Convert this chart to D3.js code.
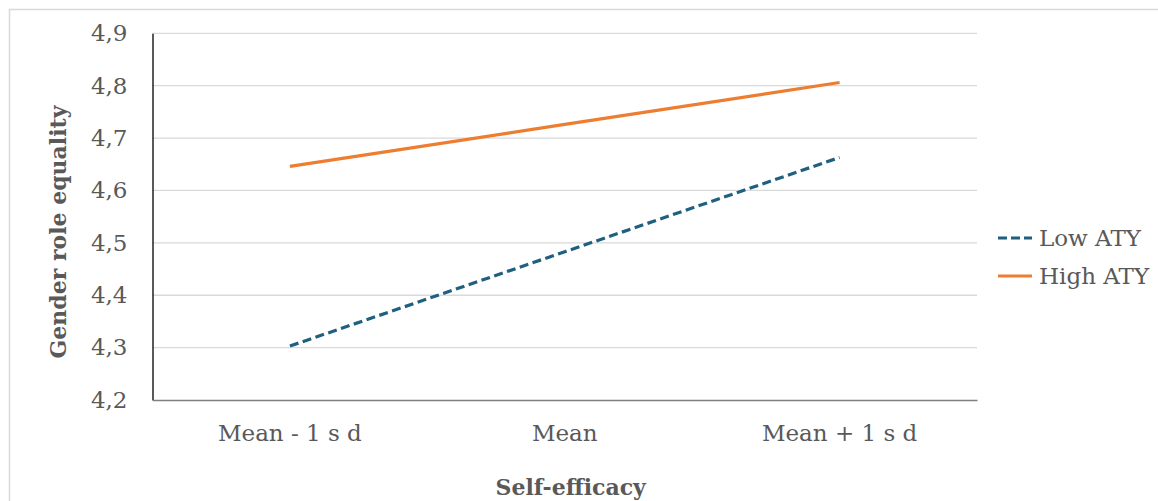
<!DOCTYPE html>
<html>
<head>
<meta charset="utf-8">
<script src="https://cdn.jsdelivr.net/npm/d3@7"></script>
<style>
  html, body { margin: 0; padding: 0; background: #fff; }
  svg { display: block; }
</style>
</head>
<body>
<script>
const categories = ["Mean - 1 s d", "Mean", "Mean + 1 s d"];
const seriesNames = ["Low ATY", "High ATY"];
const lowATY = [4.303, 4.483, 4.663];
const highATY = [4.646, 4.726, 4.806];
const yTicks = [4.2, 4.3, 4.4, 4.5, 4.6, 4.7, 4.8, 4.9];
const yTickLabels = ["4,2", "4,3", "4,4", "4,5", "4,6", "4,7", "4,8", "4,9"];
const xTitle = "Self-efficacy";
const yTitle = "Gender role equality";

const W = 1158, H = 501;
const font = "'DejaVu Serif', serif";
const textColor = "#595959";

const svg = d3.select("body").append("svg").attr("width", W).attr("height", H);
svg.append("rect").attr("width", W).attr("height", H).attr("fill", "#fff");
svg.append("rect").attr("x", 9.5).attr("y", 9.5).attr("width", W).attr("height", H)
  .attr("fill", "none").attr("stroke", "#d9d9d9").attr("stroke-width", 1.5);

const plot = { left: 152.5, right: 977, top: 33.3, bottom: 400 };

const x = d3.scaleBand().domain(categories).range([plot.left, plot.right]);
const y = d3.scaleLinear().domain([4.2, 4.9]).range([plot.bottom, plot.top]);

// gridlines
svg.append("g").selectAll("line").data(yTicks.slice(1)).join("line")
  .attr("x1", plot.left).attr("x2", plot.right)
  .attr("y1", d => y(d)).attr("y2", d => y(d))
  .attr("stroke", "#d9d9d9").attr("stroke-width", 1.3);

// y axis
const yAxis = d3.axisLeft(y).tickValues(yTicks).tickSize(0).tickPadding(25)
  .tickFormat((d, i) => yTickLabels[i]);
const gy = svg.append("g").attr("transform", `translate(${plot.left},0)`).call(yAxis);
gy.select(".domain").attr("stroke", "#000").attr("stroke-width", 1.3);
gy.selectAll("text").attr("font-family", font).attr("font-size", 23).attr("fill", textColor);

// x axis
const xAxis = d3.axisBottom(x).tickSize(0).tickPadding(25);
const gx = svg.append("g").attr("transform", `translate(0,${plot.bottom})`).call(xAxis);
gx.select(".domain").attr("stroke", "#808080").attr("stroke-width", 1.5);
gx.selectAll("text").attr("font-family", font).attr("font-size", 23).attr("fill", textColor);

// lines
const line = d3.line().x((d, i) => x(categories[i]) + x.bandwidth() / 2).y(d => y(d));
svg.append("path").datum(lowATY).attr("d", line)
  .attr("fill", "none").attr("stroke", "#1f5f80").attr("stroke-width", 3.2)
  .attr("stroke-dasharray", "9,4.5");
svg.append("path").datum(highATY).attr("d", line)
  .attr("fill", "none").attr("stroke", "#ed7d31").attr("stroke-width", 3.2);

// axis titles
svg.append("text").attr("x", (plot.left + plot.right) / 2 + 6).attr("y", 495)
  .attr("text-anchor", "middle").attr("font-family", font).attr("font-weight", "bold")
  .attr("font-size", 22).attr("fill", textColor).text(xTitle);
svg.append("text").attr("transform", `translate(66,232) rotate(-90)`)
  .attr("text-anchor", "middle").attr("font-family", font).attr("font-weight", "bold")
  .attr("font-size", 22).attr("fill", textColor).text(yTitle);

// legend
const legend = svg.append("g");
const legendItems = [
  { name: seriesNames[0], color: "#1f5f80", dash: "9,4" },
  { name: seriesNames[1], color: "#ed7d31", dash: null }
];
legendItems.forEach((it, i) => {
  const cy = 238 + i * 38;
  legend.append("line").attr("x1", 998).attr("x2", 1032).attr("y1", cy).attr("y2", cy)
    .attr("stroke", it.color).attr("stroke-width", 3.2)
    .attr("stroke-dasharray", it.dash);
  legend.append("text").attr("x", 1039).attr("y", cy).attr("dy", "0.36em")
    .attr("font-family", font).attr("font-size", 23).attr("fill", textColor).text(it.name);
});
</script>
</body>
</html>
